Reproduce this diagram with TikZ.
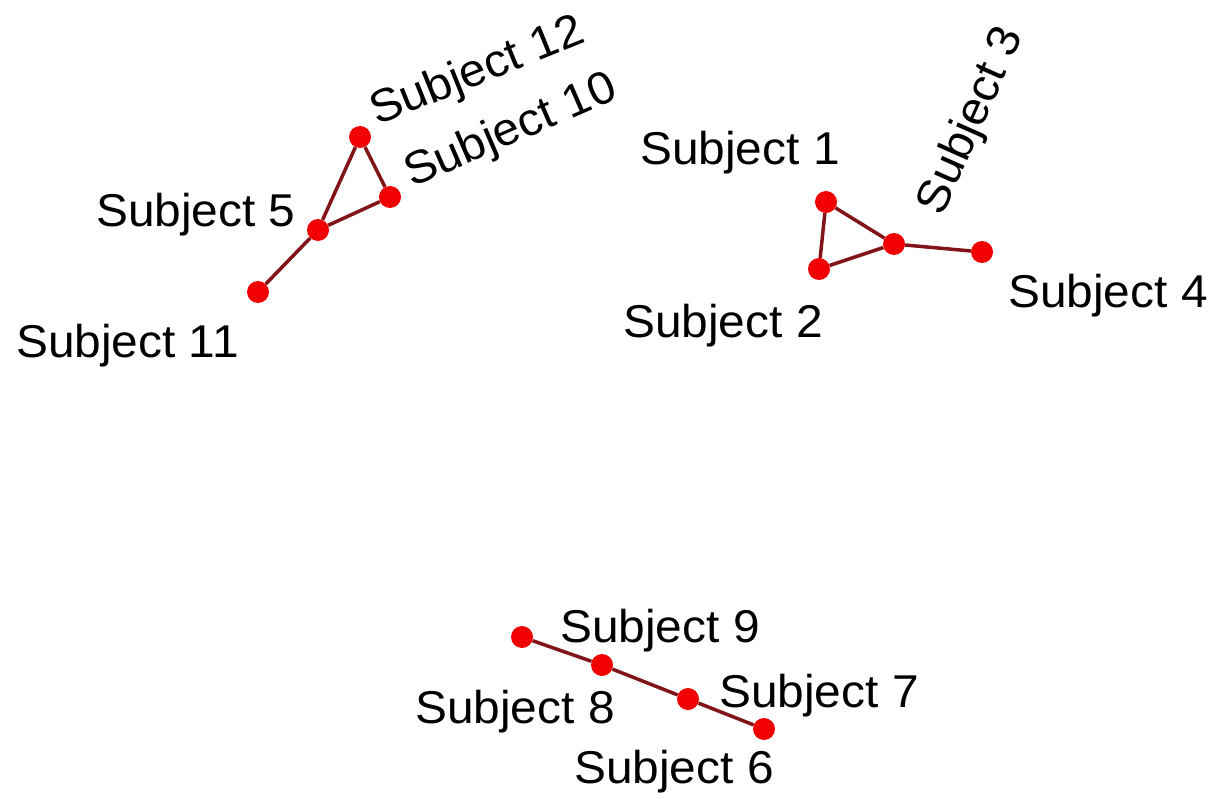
\documentclass[tikz,border=0pt]{standalone}
\usepackage{fontspec}
\setmainfont[FakeStretch=1.04]{Liberation Sans}
\definecolor{edgecol}{RGB}{128,20,24}
\definecolor{dotcol}{RGB}{240,0,0}
\begin{document}
\begin{tikzpicture}[x=1pt,y=-1pt,
  dot/.style={circle,fill=dotcol,draw=none,minimum size=22pt,inner sep=0pt},
  link/.style={draw=edgecol,line width=3.5pt},
  lbl/.style={font=\fontsize{46}{50}\selectfont,inner sep=0pt,anchor=base west,text=black}]
\useasboundingbox[fill=white] (0,0) rectangle (1214,799);
% nodes
\node[dot] (s12) at (360,137) {};
\node[dot] (s10) at (390,197) {};
\node[dot] (s5)  at (318,230) {};
\node[dot] (s11) at (258,292) {};
\node[dot] (s1)  at (826,202) {};
\node[dot] (s3)  at (894,244) {};
\node[dot] (s2)  at (819,269) {};
\node[dot] (s4)  at (982,252) {};
\node[dot] (s9)  at (522,637) {};
\node[dot] (s8)  at (602,665) {};
\node[dot] (s7)  at (688,699) {};
\node[dot] (s6)  at (764,729) {};
% edges
\draw[link] (s12) -- (s10);
\draw[link] (s12) -- (s5);
\draw[link] (s10) -- (s5);
\draw[link] (s5) -- (s11);
\draw[link] (s1) -- (s3);
\draw[link] (s1) -- (s2);
\draw[link] (s2) -- (s3);
\draw[link] (s3) -- (s4);
\draw[link] (s9) -- (s8);
\draw[link] (s8) -- (s7);
\draw[link] (s7) -- (s6);
% labels
\node[lbl,rotate=22] (l12) at (377,126) {Subject 12};
\node[lbl,rotate=23.5] (l10) at (412,188) {Subject 10};
\node[lbl] (l5) at (96,227) {Subject 5};
\node[lbl] (l11) at (16,357) {Subject 11};
\node[lbl] (l1) at (640,165) {Subject 1};
\node[lbl,rotate=66,anchor=base] (l3) at (983,126) {Subject 3};
\node[lbl] (l2) at (623,337) {Subject 2};
\node[lbl] (l4) at (1008,307) {Subject 4};
\node[lbl] (l9) at (560,642) {Subject 9};
\node[lbl] (l8) at (415,723) {Subject 8};
\node[lbl] (l7) at (719,707) {Subject 7};
\node[lbl] (l6) at (574,783) {Subject 6};
\end{tikzpicture}
\end{document}
